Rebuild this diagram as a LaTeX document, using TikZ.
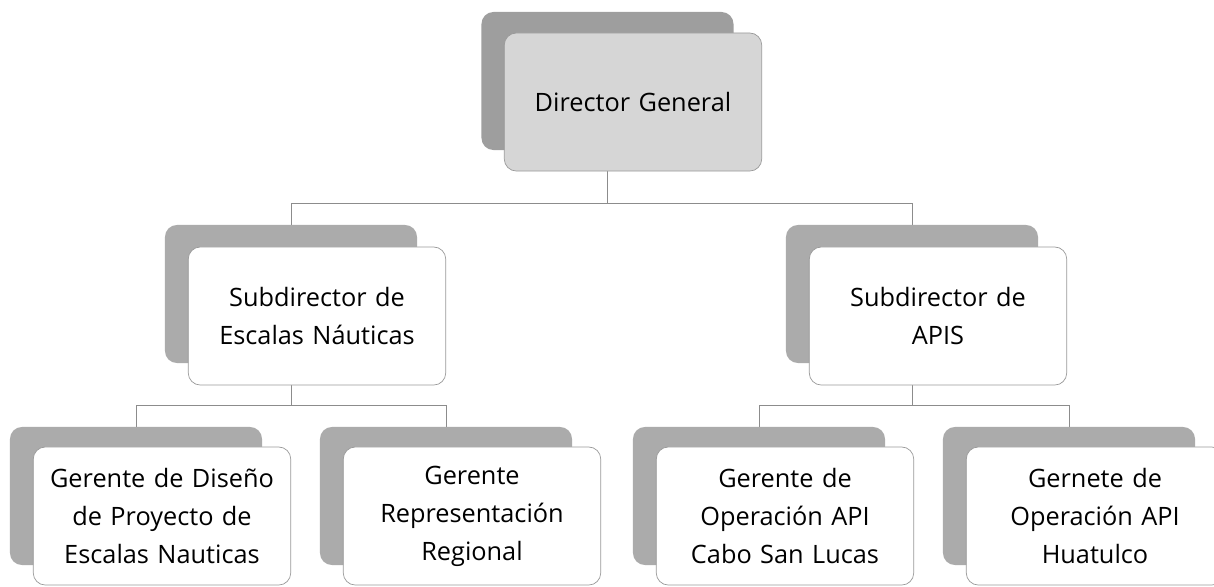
\documentclass[tikz,border=0pt]{standalone}
\usepackage{fontspec}
\setmainfont{Open Sans}
\usetikzlibrary{backgrounds}
\tikzstyle{backbox}=[rectangle, fill=black!33, minimum width=6.3cm, minimum height=3.45cm, rounded corners=0.3cm, inner sep=0pt]
\tikzstyle{topback}=[backbox, fill=black!38]
\tikzstyle{frontbox}=[rectangle, draw=black!40, line width=0.5pt, fill=white, minimum width=6.375cm, minimum height=3.45cm, rounded corners=0.3cm, text width=6.2cm, align=center, font=\fontsize{18}{27}\selectfont]
\tikzstyle{topbox}=[frontbox, fill=black!16]
\tikzstyle{conn}=[draw=black!45, line width=0.5pt]

\begin{document}
\begin{tikzpicture}[x=0.025cm,y=-0.025cm]
\path[use as bounding box, clip] (0,0) rectangle (1214,586);
\coordinate (h1) at (0,203);
\coordinate (h2) at (0,405);
%Top
\node[topback] (dgb) at (607.5,81){};
\node[topbox] (dg) at (633,102){Director General};
%Row One
\node[backbox] (s1b) at (291,294){};
\node[frontbox] (s1) at (317,316){Subdirector de\\Escalas Náuticas};
\node[backbox] (s2b) at (912,294){};
\node[frontbox] (s2) at (938,316){Subdirector de\\APIS};
%Row Two
\node[backbox] (g1b) at (136,496){};
\node[frontbox] (g1) at (162,516){Gerente de Diseño\\de Proyecto de\\Escalas Nauticas};
\node[backbox] (g2b) at (446,496){};
\node[frontbox] (g2) at (472,516){Gerente\\Representación\\Regional};
\node[backbox] (g3b) at (759,496){};
\node[frontbox] (g3) at (785,516){Gerente de\\Operación API\\Cabo San Lucas};
\node[backbox] (g4b) at (1069,496){};
\node[frontbox] (g4) at (1095,516){Gernete de\\Operación API\\Huatulco};
%Lines
\begin{scope}[on background layer]
\draw[conn] (dgb.center) -- (dgb.center |- h1) -| (s1b.north);
\draw[conn] (dgb.center |- h1) -| (s2b.north);
\draw[conn] (s1b.center) -- (s1b.center |- h2) -| (g1b.north);
\draw[conn] (s1b.center |- h2) -| (g2b.north);
\draw[conn] (s2b.center) -- (s2b.center |- h2) -| (g3b.north);
\draw[conn] (s2b.center |- h2) -| (g4b.north);
\end{scope}
\end{tikzpicture}
\end{document}
